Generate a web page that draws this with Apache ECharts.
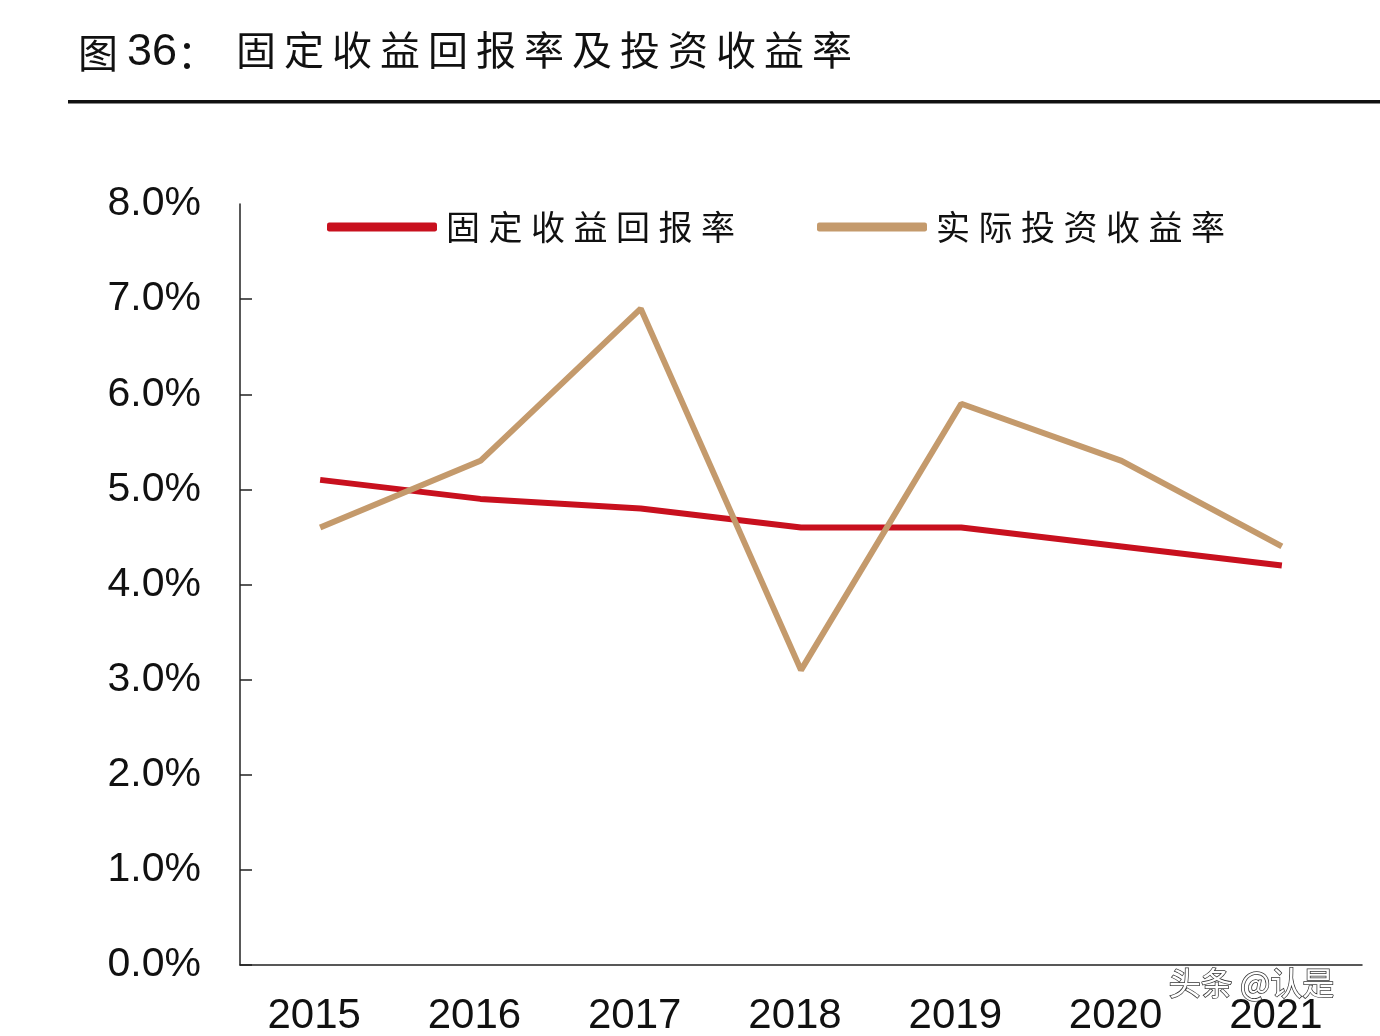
<!DOCTYPE html>
<html><head><meta charset="utf-8">
<script src="https://cdn.jsdelivr.net/npm/echarts@6/dist/echarts.min.js"></script>
<style>html,body{margin:0;padding:0;background:#fff}#c{width:1380px;height:1036px}</style>
</head><body><div id="c"></div>
<script>
var years = ['2015','2016','2017','2018','2019','2020','2021'];
var fixedReturn = [5.1, 4.9, 4.8, 4.6, 4.6, 4.4, 4.2];
var actualReturn = [4.6, 5.3, 6.9, 3.1, 5.9, 5.3, 4.4];
var seriesNames = ['固定收益回报率', '实际投资收益率'];
var yTicks = [0, 1, 2, 3, 4, 5, 6, 7, 8];
var titlePrefix = '图 ';
var titleNum = '36';
var titleText = '固定收益回报率及投资收益率';

function spaced(s, sp) { return s.split('').join(sp || '\u2009'); }

var chart = echarts.init(document.getElementById('c'));
chart.setOption({
  backgroundColor: '#fff',
  animation: false,
  grid: {left: 240, right: 18, top: 204, bottom: 71, containLabel: false, outerBoundsMode: 'none'},
  legend: {
    left: 322, top: 205,
    itemWidth: 110, itemHeight: 9, itemGap: 82,
    icon: 'roundRect',
    formatter: function(n){ return spaced(n, '\u2005'); },
    textStyle: {fontFamily: 'Noto Sans CJK SC', fontSize: 34, color: '#111', padding: [0,0,0,4]},
    data: seriesNames
  },
  xAxis: {
    type: 'category', data: years, boundaryGap: true,
    axisLine: {lineStyle: {color: '#222', width: 1.5}},
    axisTick: {inside: true, length: 12, lineStyle: {color: '#222', width: 1.5}},
    axisLabel: {fontFamily: 'Liberation Sans', fontSize: 42, color: '#111', margin: 30, padding: [0, 12, 0, 0]}
  },
  yAxis: {
    type: 'value', min: 0, max: 8, interval: 1,
    axisLine: {show: true, lineStyle: {color: '#222', width: 1.5}},
    axisTick: {show: true, inside: true, length: 12, customValues: yTicks.slice(0, 8), lineStyle: {color: '#222', width: 1.5}},
    splitLine: {show: false},
    axisLabel: {fontFamily: 'Liberation Sans', fontSize: 41, color: '#111', margin: 39,
      formatter: function(v){return v.toFixed(1) + '%';}}
  },
  series: [
    {name: seriesNames[0], type: 'line', data: fixedReturn, symbol: 'none',
     color: '#C8101E', lineStyle: {width: 6, color: '#C8101E'}},
    {name: seriesNames[1], type: 'line', data: actualReturn, symbol: 'none',
     color: '#C49A6C', lineStyle: {width: 6, color: '#C49A6C'}}
  ],
  graphic: [
    {type: 'text', left: 78, top: 30, style: {
      text: '{a|' + titlePrefix + '}{b|' + titleNum + '}{a|：}',
      rich: {
        a: {font: '40px "Noto Sans CJK SC"', fill: '#111'},
        b: {font: '45px "Liberation Sans"', fill: '#111'}
      }}},
    {type: 'text', left: 236, top: 30, style: {
      text: spaced(titleText), font: '40px "Noto Sans CJK SC"', fill: '#111'}},
    {type: 'rect', shape: {x: 68, y: 100, width: 1312, height: 3.5}, style: {fill: '#111'}},
    {type: 'text', left: 1168, top: 966, z: 100, style: {text: '头条 @认是', font: '32px "Noto Sans CJK SC"', fill: '#fff', stroke: '#333', lineWidth: 1.5}}
  ]
});
</script></body></html>
